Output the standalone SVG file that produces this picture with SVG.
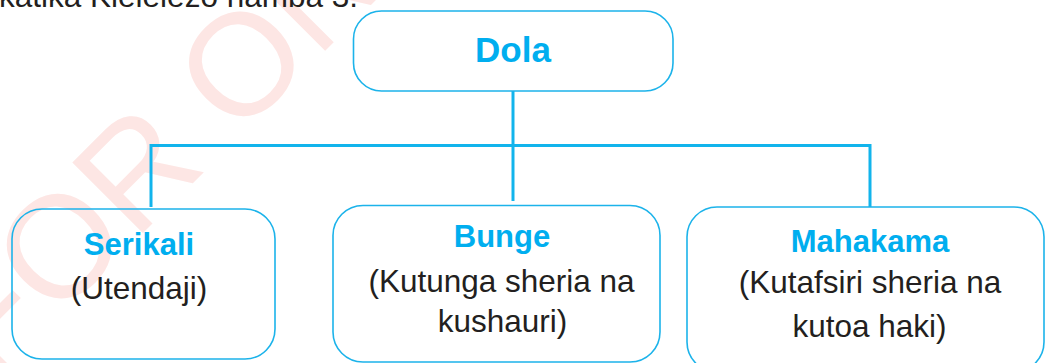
<svg xmlns="http://www.w3.org/2000/svg" width="1046" height="363" viewBox="0 0 1046 363">
<style>
.box{fill:none;stroke:#1cb3ea;stroke-width:1.6}
.conn{fill:none;stroke:#12b4ec;stroke-width:3}
.head{font-family:"Liberation Sans",Arial,sans-serif;font-weight:bold;fill:#00aeef;text-anchor:middle}
.body{font-family:"Liberation Sans",Arial,sans-serif;fill:#231f20;text-anchor:middle;font-size:31.5px}
.wm{font-family:"Liberation Sans",Arial,sans-serif;font-size:145px;fill:#fde6e4}
</style>
<rect width="1046" height="363" fill="#ffffff"/>
<text class="wm" transform="translate(-8,384) rotate(-45)" x="0" y="0">FOR ONLINE READING ONLY</text>
<text x="358" y="7" font-family="'Liberation Sans',Arial,sans-serif" font-size="31.5" fill="#231f20" text-anchor="end">katika Kielelezo namba 3.</text>
<g id="connectors">
<path class="conn" d="M513,91 V201"/>
<path class="conn" d="M151,207 V145.5 H870 V207"/>
</g>
<g id="dola">
<rect class="box" x="353.5" y="11" width="319.5" height="80" rx="28"/>
<text class="head" x="513" y="62" font-size="35">Dola</text>
</g>
<g id="serikali">
<rect class="box" x="12" y="209" width="263" height="150" rx="30"/>
<text class="head" x="139" y="255" font-size="31">Serikali</text>
<text class="body" x="139" y="299">(Utendaji)</text>
</g>
<g id="bunge">
<rect class="box" x="333" y="205.5" width="327" height="156.5" rx="30"/>
<text class="head" x="502" y="247" font-size="31">Bunge</text>
<text class="body" x="501.5" y="292">(Kutunga sheria na</text>
<text class="body" x="502.5" y="332">kushauri)</text>
</g>
<g id="mahakama">
<rect class="box" x="687" y="207" width="357" height="165" rx="30"/>
<text class="head" x="870" y="252" font-size="31">Mahakama</text>
<text class="body" x="870" y="293">(Kutafsiri sheria na</text>
<text class="body" x="869.5" y="337">kutoa haki)</text>
</g>
</svg>
